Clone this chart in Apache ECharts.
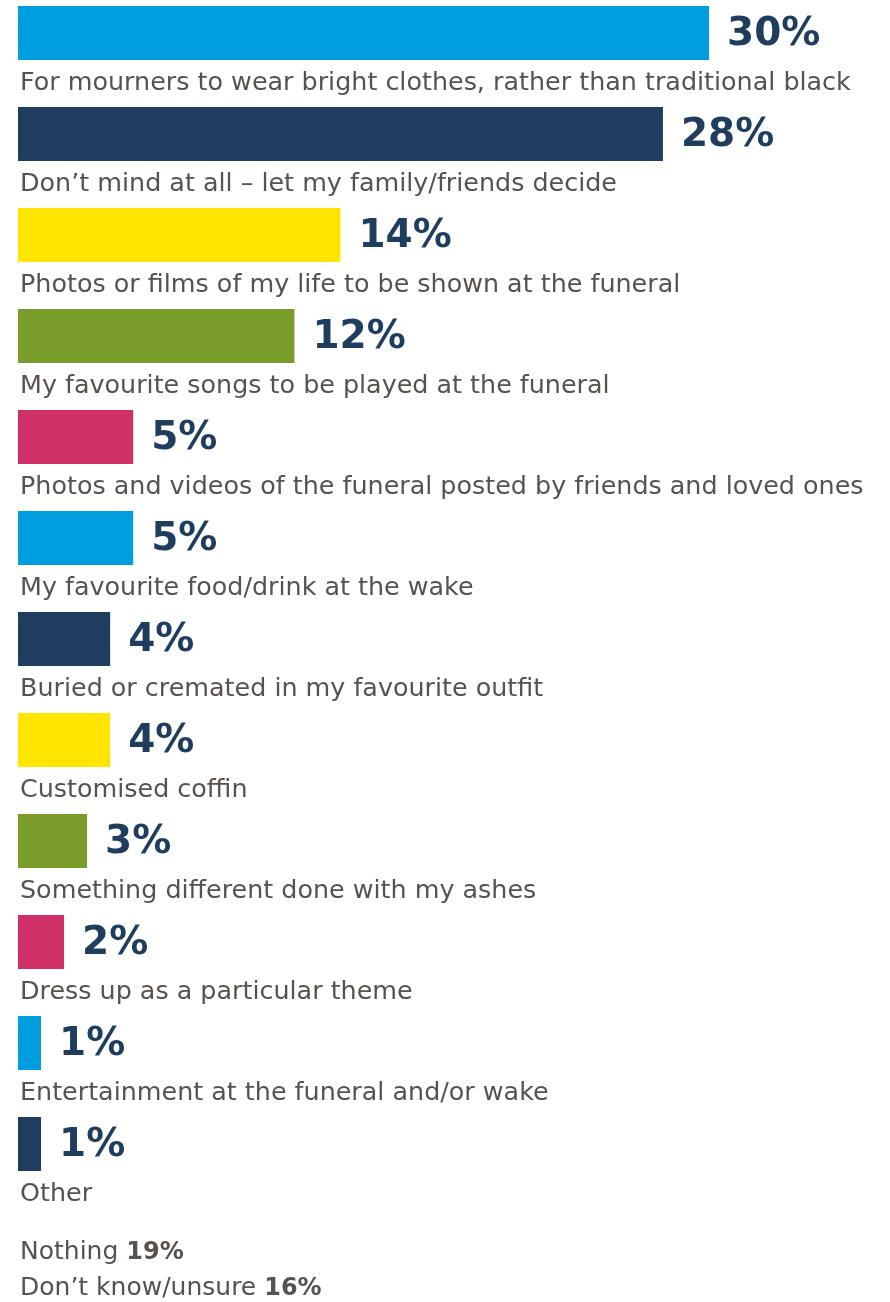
<!DOCTYPE html>
<html>
<head>
<meta charset="utf-8">
<title>Funeral wishes</title>
<script src="https://cdn.jsdelivr.net/npm/echarts@6/dist/echarts.min.js"></script>
<style>
  html, body { margin: 0; padding: 0; background: #ffffff; }
  #chart { width: 890px; height: 1302px; }
</style>
</head>
<body>
<div id="chart"></div>
<script>
// Survey answers, top to bottom
const categories = [
  'For mourners to wear bright clothes, rather than traditional black',
  'Don\u2019t mind at all \u2013 let my family/friends decide',
  'Photos or films of my life to be shown at the funeral',
  'My favourite songs to be played at the funeral',
  'Photos and videos of the funeral posted by friends and loved ones',
  'My favourite food/drink at the wake',
  'Buried or cremated in my favourite outfit',
  'Customised coffin',
  'Something different done with my ashes',
  'Dress up as a particular theme',
  'Entertainment at the funeral and/or wake',
  'Other'
];
const percentages = [30, 28, 14, 12, 5, 5, 4, 4, 3, 2, 1, 1];
const barColors = ['#009ddf', '#1f3d5f', '#ffe500', '#7a9c2a', '#cf3068', '#009ddf',
                   '#1f3d5f', '#ffe500', '#7a9c2a', '#cf3068', '#009ddf', '#1f3d5f'];

// Answers listed as text beneath the chart
const footerLabels = ['Nothing', 'Don\u2019t know/unsure'];
const footerValues = [19, 16];

const textFont = '"DejaVu Sans"';
const valueFont = '"DejaVu Sans"';
const navy = '#1f3d5f';
const grey = '#57524e';

const chart = echarts.init(document.getElementById('chart'));

chart.setOption({
  animation: false,
  grid: { left: 18, right: 181, top: 6, bottom: 84 },
  xAxis: {
    type: 'value', min: 0, max: 30,
    show: false
  },
  yAxis: {
    type: 'category', data: categories, inverse: true,
    show: false
  },
  series: [
    {
      type: 'bar',
      barWidth: 54,
      barGap: '0%',
      data: percentages.map((v, i) => ({ value: v, itemStyle: { color: barColors[i] } })),
      label: {
        show: true,
        position: 'right',
        distance: 18,
        offset: [0, 2],
        formatter: p => p.value + '%',
        color: navy,
        fontFamily: valueFont,
        fontWeight: 'bold',
        fontSize: 39
      }
    },
    {
      // zero-width bars that carry the answer text under each coloured bar
      type: 'bar',
      barWidth: 47,
      silent: true,
      data: categories.map(() => 0),
      itemStyle: { color: 'transparent' },
      label: {
        show: true,
        position: 'right',
        distance: 2,
        formatter: '{b}',
        color: grey,
        fontFamily: textFont,
        fontSize: 25.4
      }
    }
  ],
  graphic: footerLabels.map((name, i) => ({
    type: 'text',
    left: 20,
    top: 1240 + i * 36,
    style: {
      text: name + ' {b|' + footerValues[i] + '%}',
      fill: grey,
      font: '25px ' + textFont,
      rich: {
        b: { fontFamily: textFont, fontSize: 24, fontWeight: 'bold', fill: grey }
      }
    }
  }))
});
</script>
</body>
</html>
